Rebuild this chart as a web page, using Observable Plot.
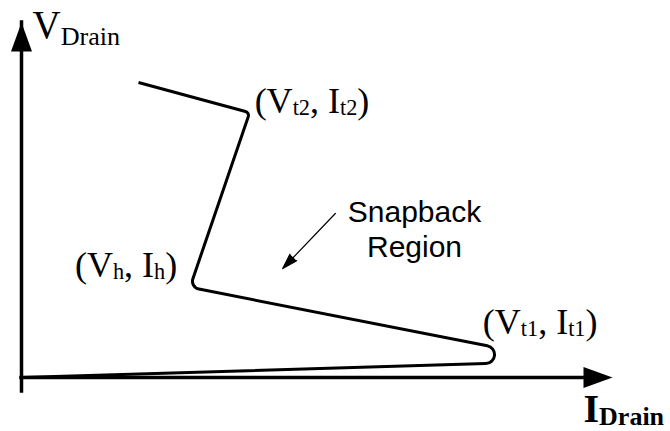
<!DOCTYPE html>
<html>
<head>
<meta charset="utf-8">
<script src="https://cdn.jsdelivr.net/npm/d3@7"></script>
<script src="https://cdn.jsdelivr.net/npm/@observablehq/plot@0.6"></script>
<style>
  body { margin: 0; background: #fff; }
</style>
</head>
<body>
<div id="chart"></div>
<script>
// Idealized snapback I–V characteristic (arbitrary units, 0–100 on each axis).
// Vertices: origin, trigger corner, holding corner, second-breakdown corner, end.
const pointNames = ["origin", "trigger", "holding", "failure", "end"];
const current = [0, 92.1, 28.5, 38.6, 19.8];
const voltage = [0, 4.6, 25.4, 74.6, 83.1];
const pointLabels = ["", "(V_{t1}, I_{t1})", "(V_{h}, I_{h})", "(V_{t2}, I_{t2})", ""];

// Axis extents and titles
const currentMax = 100;
const voltageMax = 100;
const axisTitleV = "V_{Drain}";
const axisTitleI = "I_{Drain}";

// "Snapback Region" annotation and its pointer
const noteText = ["Snapback\nRegion"];
const noteCurrent = [66.5];
const noteVoltage = [42.0];
const pointerFrom = [53.1, 46.2];
const pointerTo = [44.2, 30.7];

const points = current.map((c, i) => ({name: pointNames[i], current: c, voltage: voltage[i], label: pointLabels[i]}));
const pick = (name) => points.filter((d) => d.name === name);

// Curve factory: straight segments joined by circular arcs of the given radii
function roundedCorners(radii) {
  return (context) => {
    let pts = [];
    return {
      areaStart() {}, areaEnd() {},
      lineStart() { pts = []; },
      point(x, y) { pts.push([+x, +y]); },
      lineEnd() {
        if (!pts.length) return;
        context.moveTo(pts[0][0], pts[0][1]);
        for (let i = 1; i < pts.length - 1; ++i) {
          context.arcTo(pts[i][0], pts[i][1], pts[i + 1][0], pts[i + 1][1], radii[i] || 0);
        }
        const last = pts[pts.length - 1];
        context.lineTo(last[0], last[1]);
      }
    };
  };
}

// Filled arrowheads for the axes (tip at the anchor point)
const headLen = 29, headHalf = 10.5;
const arrowUp = {draw(ctx) { ctx.moveTo(0, 0); ctx.lineTo(headHalf, headLen); ctx.lineTo(-headHalf, headLen); ctx.closePath(); }};
const arrowRight = {draw(ctx) { ctx.moveTo(0, 0); ctx.lineTo(-headLen, headHalf); ctx.lineTo(-headLen, -headHalf); ctx.closePath(); }};

const serif = "Liberation Serif, Times New Roman, serif";
const sans = "Liberation Sans, Arial, sans-serif";
const labelSize = 36;

const chart = Plot.plot({
  width: 670,
  height: 431,
  marginTop: 0, marginRight: 0, marginBottom: 0, marginLeft: 0,
  style: {background: "#fff", color: "#000"},
  x: {domain: [0, currentMax], range: [21, 612], axis: null},
  y: {domain: [0, voltageMax], range: [377, 22], axis: null},
  marks: [
    // axes with arrowheads
    Plot.ruleY([0], {x1: 0, x2: currentMax, insetRight: 14, stroke: "#000", strokeWidth: 3.5, strokeLinecap: "square"}),
    Plot.ruleX([0], {y1: 0, y2: voltageMax, insetTop: 14, stroke: "#000", strokeWidth: 3.5, strokeLinecap: "square"}),
    Plot.dot([{current: currentMax, voltage: 0}], {x: "current", y: "voltage", symbol: arrowRight, fill: "#000", stroke: "none"}),
    Plot.dot([{current: 0, voltage: voltageMax}], {x: "current", y: "voltage", symbol: arrowUp, fill: "#000", stroke: "none"}),

    // axis titles
    Plot.text([{current: 0, voltage: voltageMax, label: axisTitleV}], {x: "current", y: "voltage", text: "label", textAnchor: "start", dx: 11, dy: 3.5, fontSize: 39, fontFamily: serif, fill: "#000"}),
    Plot.text([{current: currentMax, voltage: 0, label: axisTitleI}], {x: "current", y: "voltage", text: "label", textAnchor: "start", dx: -29, dy: 32, fontSize: 40, fontWeight: "bold", fontFamily: serif, fill: "#000"}),

    // the snapback characteristic
    Plot.line(points, {x: "current", y: "voltage", curve: roundedCorners([0, 9, 8, 4, 0]), stroke: "#000", strokeWidth: 3, strokeLinejoin: "round", strokeLinecap: "butt"}),

    // corner labels
    Plot.text(pick("trigger"), {x: "current", y: "voltage", text: "label", textAnchor: "start", dx: -83, dy: -39, fontSize: labelSize, fontFamily: serif, fill: "#000"}),
    Plot.text(pick("holding"), {x: "current", y: "voltage", text: "label", textAnchor: "start", dx: -115, dy: -21.5, fontSize: labelSize, fontFamily: serif, fill: "#000"}),
    Plot.text(pick("failure"), {x: "current", y: "voltage", text: "label", textAnchor: "start", dx: 5, dy: -11.5, fontSize: labelSize, fontFamily: serif, fill: "#000"}),

    // annotation
    Plot.text(noteText.map((t, i) => ({label: t, current: noteCurrent[i], voltage: noteVoltage[i]})), {x: "current", y: "voltage", text: "label", textAnchor: "middle", lineHeight: 1.17, fontSize: 30, fontFamily: sans, fill: "#000"}),
    Plot.arrow([{x1: pointerFrom[0], y1: pointerFrom[1], x2: pointerTo[0], y2: pointerTo[1]}], {x1: "x1", y1: "y1", x2: "x2", y2: "y2", stroke: "#000", fill: "#000", strokeWidth: 1.2, headLength: 20, headAngle: 34})
  ]
});

document.getElementById("chart").appendChild(chart);

// Turn "_{...}" markers into subscript tspans
const subStyle = {
  [axisTitleV]: {scale: 0.67, shift: 7},
  [axisTitleI]: {scale: 0.65, shift: 3}
};
const svgNS = "http://www.w3.org/2000/svg";
chart.querySelectorAll("text").forEach((el) => {
  const src = el.textContent;
  if (!src.includes("_{")) return;
  const opts = subStyle[src] || {scale: 0.62, shift: 2};
  const size = parseFloat(getComputedStyle(el).fontSize);
  el.textContent = "";
  let lowered = false;
  const add = (str, sub) => {
    const t = document.createElementNS(svgNS, "tspan");
    t.textContent = str;
    if (sub) {
      t.setAttribute("font-size", size * opts.scale);
      t.setAttribute("dy", opts.shift);
      lowered = true;
    } else if (lowered) {
      t.setAttribute("dy", -opts.shift);
      lowered = false;
    }
    el.appendChild(t);
  };
  const re = /_\{([^}]*)\}/g;
  let last = 0, m;
  while ((m = re.exec(src))) {
    if (m.index > last) add(src.slice(last, m.index), false);
    add(m[1], true);
    last = re.lastIndex;
  }
  if (last < src.length) add(src.slice(last), false);
});
</script>
</body>
</html>
